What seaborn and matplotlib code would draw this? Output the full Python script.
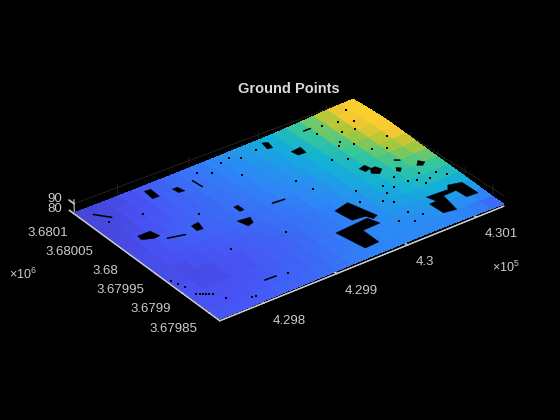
import numpy as np
import matplotlib
matplotlib.use("Agg")
import matplotlib.pyplot as plt
import seaborn as sns
from matplotlib.artist import Artist
from matplotlib.transforms import ScaledTranslation
from mpl_toolkits.mplot3d.art3d import Poly3DCollection

title = "Ground Points"
x_ticks = [429800, 429900, 430000, 430100]
x_labels = ["4.298", "4.299", "4.3", "4.301"]
y_ticks = [3679850, 3679900, 3679950, 3680000, 3680050, 3680100]
y_labels = ["3.67985", "3.6799", "3.67995", "3.68", "3.68005", "3.6801"]
z_ticks = [80, 90]
z_labels = ["80", "90"]

x_grid = [429740, 429760, 429780, 429800, 429820, 429840, 429860, 429880, 429900, 429920, 429940,
          429960, 429980, 430000, 430020, 430040, 430060, 430080, 430100, 430120, 430140]
y_grid = [3679830, 3679850, 3679870, 3679890, 3679910, 3679930, 3679950, 3679970,
          3679990, 3680010, 3680030, 3680050, 3680070, 3680090, 3680110]

# elevation, one row per y_grid value
elev = [
    [81.8, 81.8, 81.8, 82.0, 82.1, 82.2, 82.3, 82.5, 82.6, 82.9, 83.0, 83.1, 83.1, 83.3, 83.3, 83.3, 83.3, 83.1, 82.9, 82.5, 82.0],
    [81.8, 81.7, 81.7, 81.8, 82.0, 82.1, 82.2, 82.3, 82.5, 82.7, 83.0, 83.1, 83.3, 83.3, 83.4, 83.4, 83.4, 83.4, 83.3, 82.9, 82.5],
    [81.7, 81.7, 81.6, 81.7, 81.8, 82.0, 82.1, 82.2, 82.5, 82.6, 82.9, 83.1, 83.3, 83.4, 83.5, 83.6, 83.8, 83.9, 83.9, 83.8, 83.4],
    [81.7, 81.6, 81.4, 81.6, 81.7, 81.8, 82.0, 82.2, 82.3, 82.6, 82.7, 83.0, 83.1, 83.4, 83.6, 83.9, 84.2, 84.4, 84.6, 84.6, 84.3],
    [81.6, 81.4, 81.4, 81.4, 81.6, 81.8, 82.0, 82.1, 82.3, 82.5, 82.7, 82.9, 83.1, 83.4, 83.8, 84.2, 84.6, 84.9, 85.2, 85.3, 85.2],
    [81.6, 81.4, 81.4, 81.6, 81.7, 81.8, 82.0, 82.2, 82.3, 82.5, 82.7, 82.9, 83.1, 83.5, 83.9, 84.4, 84.9, 85.5, 85.9, 86.0, 86.0],
    [81.4, 81.4, 81.6, 81.7, 81.8, 82.0, 82.1, 82.2, 82.5, 82.6, 82.7, 83.0, 83.3, 83.6, 84.2, 84.7, 85.2, 85.9, 86.4, 86.8, 86.8],
    [81.4, 81.6, 81.7, 81.8, 82.0, 82.1, 82.2, 82.3, 82.5, 82.7, 82.9, 83.1, 83.4, 83.8, 84.3, 84.8, 85.5, 86.2, 86.9, 87.5, 87.5],
    [81.3, 81.6, 81.7, 82.0, 82.1, 82.2, 82.3, 82.5, 82.6, 82.7, 83.0, 83.3, 83.5, 83.9, 84.4, 84.9, 85.6, 86.5, 87.3, 88.1, 88.6],
    [81.3, 81.4, 81.7, 82.0, 82.1, 82.2, 82.3, 82.5, 82.6, 82.9, 83.1, 83.4, 83.6, 84.0, 84.6, 85.1, 85.9, 86.8, 87.8, 88.7, 89.5],
    [81.3, 81.4, 81.6, 81.8, 82.0, 82.2, 82.3, 82.6, 82.7, 82.9, 83.1, 83.4, 83.8, 84.2, 84.7, 85.3, 86.1, 87.2, 88.2, 89.4, 90.4],
    [81.2, 81.3, 81.4, 81.7, 81.8, 82.1, 82.3, 82.5, 82.7, 83.0, 83.3, 83.5, 83.9, 84.3, 84.8, 85.5, 86.5, 87.5, 88.6, 89.9, 91.0],
    [81.2, 81.3, 81.4, 81.6, 81.8, 82.1, 82.3, 82.6, 82.7, 83.0, 83.3, 83.6, 84.0, 84.4, 84.9, 85.7, 86.8, 87.8, 89.0, 90.1, 91.0],
    [81.2, 81.2, 81.3, 81.6, 81.7, 82.0, 82.2, 82.5, 82.7, 83.0, 83.4, 83.8, 84.2, 84.6, 84.9, 85.9, 86.8, 87.8, 89.1, 90.0, 90.6],
    [81.2, 81.2, 81.3, 81.4, 81.7, 82.0, 82.2, 82.5, 82.7, 83.1, 83.5, 83.9, 84.3, 84.7, 85.2, 86.0, 86.8, 87.8, 88.8, 89.5, 90.0],
]

# gaps in the ground points (buildings), as footprints
footprints = [
    [(429948, 3679894), (429995, 3679897), (430000, 3679880), (429975, 3679879), (429974, 3679849), (429954, 3679848)],
    [(429976, 3679932), (429998, 3679937), (430008, 3679895), (430000, 3679892), (429996, 3679901), (429979, 3679904), (429977, 3679918)],
    [(430076, 3679891), (430106, 3679889), (430112, 3679897), (430129, 3679892), (430130, 3679864), (430114, 3679865),
     (430112, 3679882), (430093, 3679881), (430088, 3679851), (430071, 3679854), (430070, 3679878), (430080, 3679878)],
    [(430014, 3680065), (430029, 3680067), (430027, 3680053), (430016, 3680054)],
    [(429768, 3680025), (429785, 3680025), (429788, 3680010), (429780, 3680009), (429767, 3680016)],
    [(429828, 3680005), (429839, 3680007), (429835, 3679992), (429827, 3679993)],
    [(429830, 3680100), (429838, 3680099), (429837, 3680080), (429828, 3680081)],
    [(429858, 3680084), (429865, 3680084), (429867, 3680072), (429859, 3680073)],
    [(429890, 3680009), (429896, 3680009), (429896, 3679997), (429890, 3679997)],
    [(429875, 3679982), (429892, 3679980), (429888, 3679969), (429879, 3679966)],
    [(429999, 3680102), (430006, 3680099), (430003, 3680086), (429996, 3680087)],
    [(430063, 3679978), (430070, 3679978), (430072, 3679968), (430064, 3679962), (430057, 3679969)],
    [(430052, 3679985), (430062, 3679988), (430064, 3679978), (430054, 3679976)],
    [(430109, 3679950), (430116, 3679957), (430121, 3679950), (430114, 3679945)],
    [(430083, 3679955), (430087, 3679961), (430091, 3679956), (430086, 3679951)],
]

streaks = [
    [(429791, 3680000), (429812, 3679994)],
    [(429930, 3679989), (429946, 3679987)],
    [(429826, 3679864), (429841, 3679863)],
    [(429887, 3680085), (429888, 3680067)],
    [(429755, 3680094), (429768, 3680076)],
    [(430095, 3679974), (430100, 3679970)],
    [(430052, 3680091), (430062, 3680091)],
]

speck_x = [429755, 429758, 429761, 429752, 429764, 429749, 429743, 429745, 429748, 429795, 429799, 429770,
           430020, 430032, 430040, 430045, 430052, 430060, 430072, 430080, 430090, 430095, 430100, 430105, 430118, 430125,
           430040, 430050, 430035, 430020, 430010,
           430040, 430055, 430065, 430070, 430080, 430085, 430095, 430100, 430110, 430118, 430060, 430075, 430090, 430105, 430120,
           429900, 429915, 429935, 429950, 429960, 429985, 429940, 429850, 429905, 429835, 429980, 429985, 429800, 429855, 429760]
speck_y = [3679881, 3679880, 3679878, 3679884, 3679876, 3679887, 3679925, 3679915, 3679905, 3679845, 3679843, 3679860,
           3679950, 3679915, 3679905, 3679925, 3679940, 3679930, 3679945, 3679930, 3679925, 3679915, 3679935, 3679920, 3679925, 3679915,
           3679880, 3679865, 3679860, 3679870, 3679930,
           3680020, 3680010, 3680040, 3680045, 3680030, 3680060, 3680080, 3680055, 3680070, 3680095, 3680075, 3680085, 3680010, 3680000, 3680020,
           3680095, 3680085, 3680095, 3680100, 3680090, 3680095, 3680060, 3680020, 3679930, 3679940, 3680010, 3679985, 3680060, 3679860, 3680070]

parula_colors = ["#3E2698", "#4852F4", "#2D87F7", "#12B1D6", "#37C897", "#ABC739", "#FEC831", "#F0D828", "#F9FB15"]

sns.set_theme(style="dark", rc={"figure.facecolor": "black", "axes.facecolor": "black", "savefig.facecolor": "black",
                                "xtick.bottom": True, "ytick.left": True})
plt.rcParams["font.family"] = ["Liberation Sans", "DejaVu Sans"]
plt.rcParams["mathtext.fontset"] = "custom"
plt.rcParams["mathtext.rm"] = "Liberation Sans"
parula = sns.blend_palette(parula_colors, as_cmap=True)

txt = "#CCCCCC"
elev = np.array(elev)


def ground(x, y):
    col = np.abs(np.array(x_grid) - x).argmin()
    row = np.abs(np.array(y_grid) - y).argmin()
    return elev[row, col]


def nudge(label, shift):
    # Axis3D sets the label transform again on every draw, so keep the offset on top of it
    label.set_transform = lambda tr: Artist.set_transform(label, tr + shift)


fig = plt.figure(figsize=(5.6, 4.2), dpi=100)
# 3d axes draw into a square, make it bigger than the figure so nothing is clipped
ax = fig.add_axes([-0.125, -0.339, 1.25, 1.6667], projection="3d", computed_zorder=False, facecolor="black")
ax.set_proj_type("persp", focal_length=1.0)
ax.view_init(elev=31, azim=-127)
ax.set_box_aspect((400, 280, 19), zoom=0.597)

X, Y = np.meshgrid(x_grid, y_grid)
ax.plot_surface(X, Y, elev, cmap=parula, vmin=80, vmax=93, linewidth=0, antialiased=False,
                rstride=1, cstride=1, shade=False, zorder=1)

polys = [[(px, py, ground(px, py)) for px, py in f] for f in footprints]
ax.add_collection3d(Poly3DCollection(polys, facecolor="black", edgecolor="black", linewidth=0.3, zorder=2))
for s in streaks:
    ax.plot([p[0] for p in s], [p[1] for p in s], [ground(*p) for p in s], color="black", lw=1.1, zorder=3)
ax.scatter(speck_x, speck_y, [ground(a, b) for a, b in zip(speck_x, speck_y)], color="black", s=1.8, marker="s",
           linewidths=0, depthshade=False, zorder=3)

# front edges of the floor, the surface would otherwise cover the axis lines
ax.plot([429740, 430140], [3679830, 3679830], [80, 80], color=txt, lw=1, zorder=4)
ax.plot([429740, 429740], [3679830, 3680110], [80, 80], color=txt, lw=1, zorder=4)

ax.set_xlim(429740, 430140)
ax.set_ylim(3679830, 3680110)
ax.set_zlim(80, 94)
ax.set_xticks(x_ticks, x_labels, ha="left")
ax.set_yticks(y_ticks, y_labels, ha="right")
ax.set_zticks(z_ticks, z_labels, ha="right")
ax.tick_params(axis="both", colors=txt, labelsize=9.5, width=0.8)
ax.tick_params(axis="x", pad=4)
ax.tick_params(axis="y", pad=3)
ax.tick_params(axis="z", pad=1)
ax.zaxis._get_tickdir = lambda pos: 1  # z ticks point along y, like the original

tick_len = {"x": 0.9, "y": 0.7, "z": 0.45}
# nudge of the tick labels in pixels, pad alone moves them along the tick direction
label_shift = {"x": (1, -6), "y": (1, -4.5), "z": (3, 11)}
for name, axis in zip("xyz", [ax.xaxis, ax.yaxis, ax.zaxis]):
    axis.pane.set_visible(False)
    axis.line.set_color(txt)
    axis.line.set_linewidth(0.8)
    axis._axinfo["grid"].update(color="#262626", linewidth=0.6)
    axis._axinfo["tick"].update(inward_factor=0.0, outward_factor=tick_len[name])
    axis._axinfo["tick"]["color"] = txt
    dx, dy = label_shift[name]
    for t in axis.get_major_ticks():
        nudge(t.label1, ScaledTranslation(dx / 100, dy / 100, fig.dpi_scale_trans))

fig.text(289 / 560, 1 - 89 / 420, title, color="#D9D9D9", fontsize=10.5, fontweight="bold", ha="center", va="center")
fig.text(492 / 560, 1 - 267 / 420, r"$\times 10^{5}$", color=txt, fontsize=9, ha="left", va="center")
fig.text(9 / 560, 1 - 274 / 420, r"$\times 10^{6}$", color=txt, fontsize=9, ha="left", va="center")

fig.savefig("out.png", dpi=100, facecolor="black")
